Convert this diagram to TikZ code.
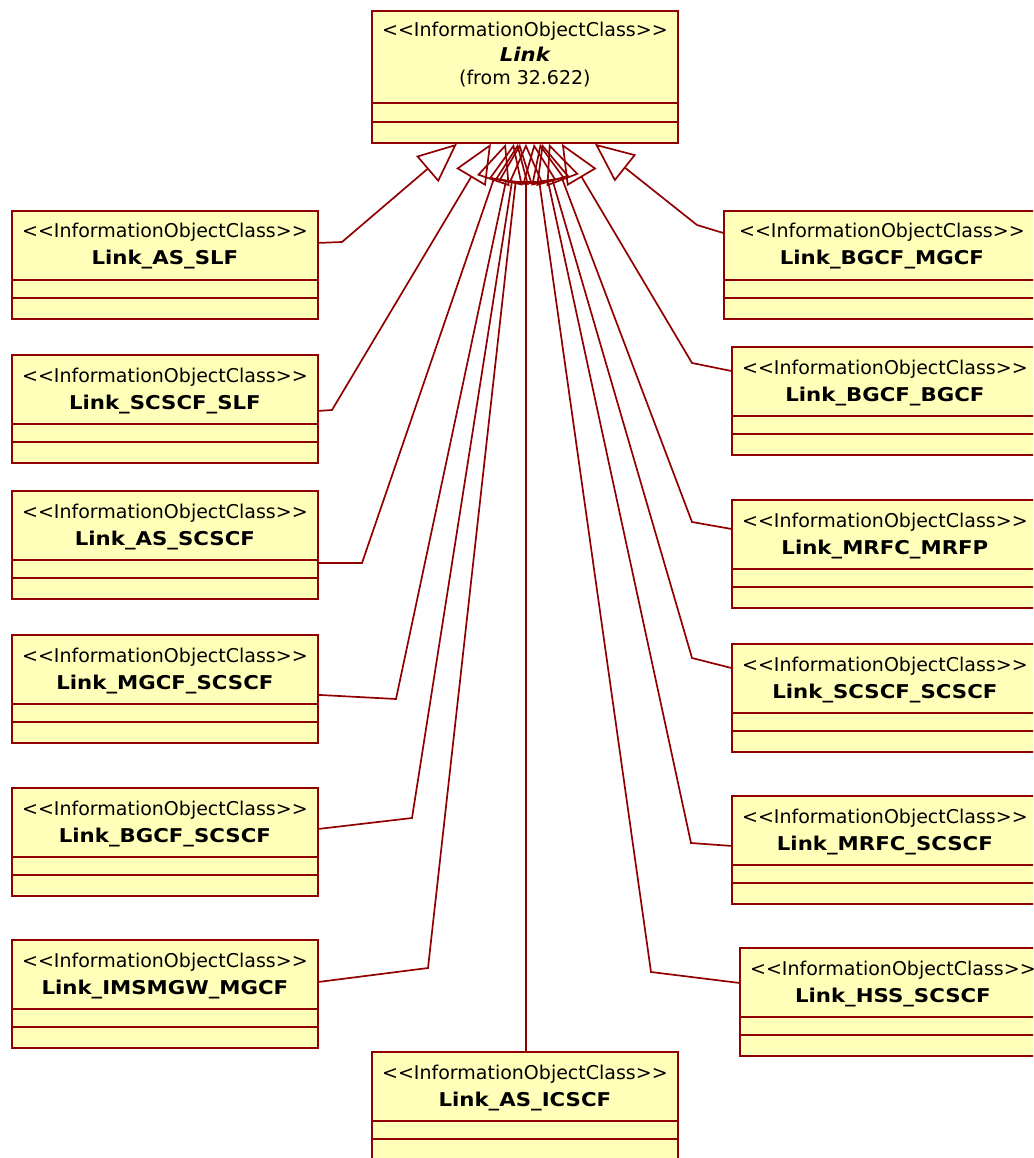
\documentclass[tikz,border=0pt]{standalone}
\usepackage{fontspec}
\setmainfont{DejaVu Sans}
\newfontfamily\widefam{DejaVu Sans}[FakeStretch=1.12]
\usetikzlibrary{arrows.meta,calc}
\definecolor{umlfill}{RGB}{255,255,185}
\definecolor{umlline}{RGB}{145,0,0}
\pgfdeclarelayer{bg}
\pgfsetlayers{bg,main}
\newcommand\stereotxt{<\kern0pt<InformationObjectClass>\kern0pt>}
\tikzset{
  umlbox/.style={draw=umlline, fill=umlfill, line width=1.8pt, inner sep=0pt, anchor=north west, minimum width=306pt, minimum height=108pt},
  stereo/.style={font=\fontsize{19}{22}\selectfont, inner sep=0pt, anchor=base},
  cname/.style={font=\widefam\bfseries\fontsize{19}{22}\selectfont, inner sep=0pt, anchor=base},
  divider/.style={draw=umlline, line width=1.8pt},
  gen/.style={draw=umlline, line width=1.7pt, line join=miter, -{Triangle[open, length=39pt, width=34pt]}}
}
% name, x, y(top), width, class name
\newcommand\classbox[5]{%
  \node[umlbox, minimum width=#4pt] (#1) at (#2,#3) {};
  \node[stereo] (#1-s) at ([yshift=-28pt]#1.north) {\stereotxt};
  \node[cname] (#1-n) at ([yshift=-55pt]#1.north) {#5};
  \draw[divider] ([yshift=-70pt]#1.north west) -- ([yshift=-70pt]#1.north east);
  \draw[divider] ([yshift=-88pt]#1.north west) -- ([yshift=-88pt]#1.north east);
}
\begin{document}
\begin{tikzpicture}[x=1pt,y=-1pt]
\useasboundingbox (0,0) rectangle (1033,1158);
\clip (0,0) rectangle (1033,1158);

% top class
\node[umlbox, minimum height=132pt] (link) at (371,10) {};
\node[stereo] (link-s) at ([yshift=-27pt]link.north) {\stereotxt};
\node[cname, font=\widefam\bfseries\itshape\fontsize{19}{22}\selectfont] (link-n) at ([yshift=-52pt]link.north) {Link};
\node[stereo] (link-f) at ([yshift=-75pt]link.north) {(from 32.622)};
\draw[divider] ([yshift=-93pt]link.north west) -- ([yshift=-93pt]link.north east);
\draw[divider] ([yshift=-112pt]link.north west) -- ([yshift=-112pt]link.north east);

% left column
\classbox{asslf}{11}{210}{306}{Link\_AS\_SLF}
\classbox{scscfslf}{11}{354}{306}{Link\_SCSCF\_SLF}
\classbox{asscscf}{11}{490}{306}{Link\_AS\_SCSCF}
\classbox{mgcfscscf}{11}{634}{306}{Link\_MGCF\_SCSCF}
\classbox{bgcfscscf}{11}{787}{306}{Link\_BGCF\_SCSCF}
\classbox{imsmgw}{11}{939}{306}{Link\_IMSMGW\_MGCF}

% right column
\classbox{bgcfmgcf}{723}{210}{316}{Link\_BGCF\_MGCF}
\classbox{bgcfbgcf}{731}{346}{306}{Link\_BGCF\_BGCF}
\classbox{mrfcmrfp}{731}{499}{306}{Link\_MRFC\_MRFP}
\classbox{scscfscscf}{731}{643}{306}{Link\_SCSCF\_SCSCF}
\classbox{mrfcscscf}{731}{795}{306}{Link\_MRFC\_SCSCF}
\classbox{hssscscf}{739}{947}{306}{Link\_HSS\_SCSCF}

% bottom
\classbox{asicscf}{371}{1051}{306}{Link\_AS\_ICSCF}

\begin{pgfonlayer}{bg}
% left connectors
\draw[gen] ([yshift=22pt]asslf.east) -- (342,242) -- ([xshift=-68pt]link.south);
\draw[gen] ([yshift=-2pt]scscfslf.east) -- (332,410) -- ([xshift=-34pt]link.south);
\draw[gen] ([yshift=-18pt]asscscf.east) -- (362,563) -- ([xshift=-19pt]link.south);
\draw[gen] ([yshift=-6pt]mgcfscscf.east) -- (396,699) -- ([xshift=-11pt]link.south);
\draw[gen] ([yshift=13pt]bgcfscscf.east) -- (412,818) -- ([xshift=-7pt]link.south);
\draw[gen] ([yshift=12pt]imsmgw.east) -- (428,968) -- ([xshift=-5pt]link.south);
% bottom connector
\draw[gen] ([xshift=1pt]asicscf.north) -- ([xshift=1pt]link.south);
% right connectors
\draw[gen] ([yshift=32pt]bgcfmgcf.west) -- (697,225) -- ([xshift=70pt]link.south);
\draw[gen] ([yshift=30pt]bgcfbgcf.west) -- (692,363) -- ([xshift=37pt]link.south);
\draw[gen] ([yshift=25pt]mrfcmrfp.west) -- (692,522) -- ([xshift=24pt]link.south);
\draw[gen] ([yshift=30pt]scscfscscf.west) -- (692,658) -- ([xshift=17pt]link.south);
\draw[gen] ([yshift=4pt]mrfcscscf.west) -- (691,843) -- ([xshift=15pt]link.south);
\draw[gen] ([yshift=19pt]hssscscf.west) -- (651,972) -- ([xshift=9pt]link.south);
\end{pgfonlayer}
\end{tikzpicture}
\end{document}
